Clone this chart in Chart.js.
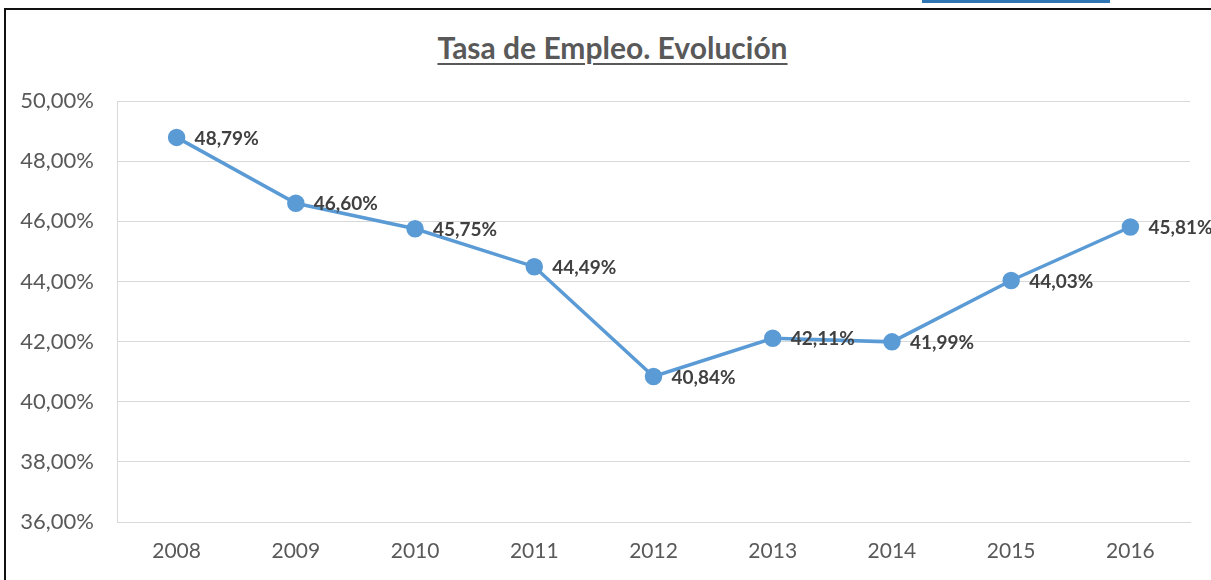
<!DOCTYPE html>
<html>
<head>
<meta charset="utf-8">
<script src="https://cdn.jsdelivr.net/npm/chart.js@4.4.1/dist/chart.umd.min.js"></script>
<style>
  html, body { margin: 0; padding: 0; background: #fff; }
  body { width: 1211px; height: 580px; position: relative; overflow: hidden; }
  #marco { position: absolute; left: 4px; top: 8px; width: 1240px; height: 600px;
           border-left: 2px solid #111; border-top: 2px solid #111; }
  #cinta { position: absolute; left: 922px; top: 0; width: 188px; height: 3px; background: #2e75b6; }
  #titulo { position: absolute; left: 0; top: 29px; width: 1225px; text-align: center;
            font-family: Lato, "Open Sans", sans-serif; font-weight: bold; font-size: 30px;
            color: #595959; text-decoration: underline; text-decoration-thickness: 2px;
            text-underline-offset: 4px; }
  #grafico { position: absolute; left: 0; top: 0; }
</style>
</head>
<body>
<div id="marco"></div>
<div id="cinta"></div>
<div id="titulo">Tasa de Empleo. Evolución</div>
<canvas id="grafico" width="1211" height="580"></canvas>
<script>
// Datos
const ANIOS = ['2008', '2009', '2010', '2011', '2012', '2013', '2014', '2015', '2016'];
const TASA_EMPLEO = [48.79, 46.60, 45.75, 44.49, 40.84, 42.11, 41.99, 44.03, 45.81];
const EJE_Y_MIN = 36;
const EJE_Y_MAX = 50;
const EJE_Y_PASO = 2;

const AZUL = '#5b9bd5';
const FUENTE = 'Lato, "Open Sans", sans-serif';

function formatoPct(v) {
    return v.toFixed(2).replace('.', ',') + '%';
}

// Etiquetas de datos a la derecha de cada punto
const etiquetasDatos = {
    id: 'etiquetasDatos',
    afterDatasetsDraw(chart) {
        const ctx = chart.ctx;
        const meta = chart.getDatasetMeta(0);
        ctx.save();
        ctx.font = 'bold 19px ' + FUENTE;
        ctx.fillStyle = '#404040';
        ctx.textAlign = 'left';
        ctx.textBaseline = 'middle';
        meta.data.forEach((pt, i) => {
            ctx.fillText(formatoPct(TASA_EMPLEO[i]), pt.x + 18, pt.y + 1);
        });
        ctx.restore();
    }
};

new Chart(document.getElementById('grafico'), {
    type: 'line',
    data: {
        labels: ANIOS,
        datasets: [{
            label: 'Tasa de Empleo',
            data: TASA_EMPLEO,
            borderColor: AZUL,
            backgroundColor: AZUL,
            borderWidth: 3.5,
            pointRadius: 7,
            pointBackgroundColor: AZUL,
            pointBorderColor: AZUL,
            tension: 0,
            fill: false
        }]
    },
    options: {
        responsive: false,
        animation: false,
        layout: { padding: { left: 0, top: 101, right: 21, bottom: 18 } },
        plugins: {
            legend: { display: false },
            title: { display: false },
            tooltip: { enabled: false }
        },
        scales: {
            x: {
                offset: true,
                grid: { display: false, drawTicks: false },
                border: { display: true, color: '#d9d9d9', width: 1 },
                ticks: {
                    color: '#595959',
                    font: { family: FUENTE, size: 21 },
                    padding: 17,
                    maxRotation: 0
                },
                afterFit(scale) { scale.height = 40; }
            },
            y: {
                min: EJE_Y_MIN,
                max: EJE_Y_MAX,
                grid: { color: '#d9d9d9', lineWidth: 1, drawTicks: false },
                border: { display: true, color: '#d9d9d9', width: 1 },
                ticks: {
                    stepSize: EJE_Y_PASO,
                    color: '#595959',
                    font: { family: FUENTE, size: 22 },
                    padding: 23,
                    callback: v => formatoPct(v)
                },
                afterFit(scale) { scale.width = 117; }
            }
        }
    },
    plugins: [etiquetasDatos]
});
</script>
</body>
</html>
